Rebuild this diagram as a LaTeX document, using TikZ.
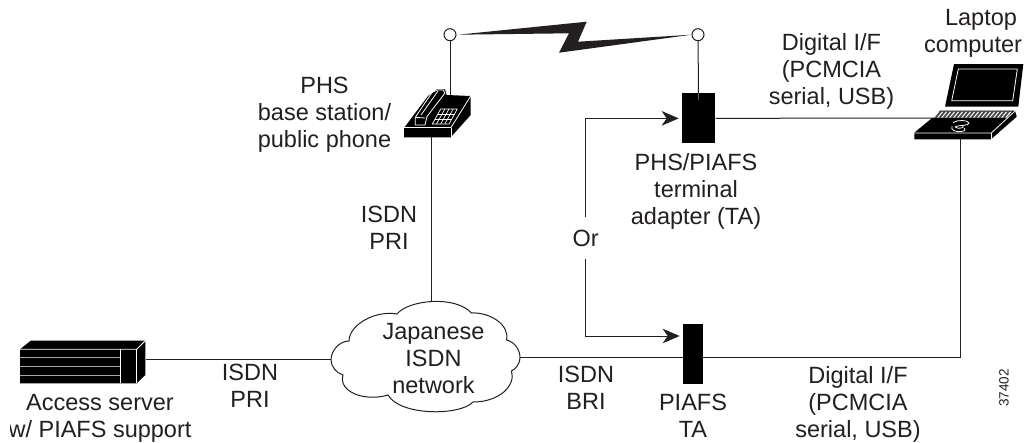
\documentclass[tikz,border=0pt]{standalone}
\usepackage{fontspec}
\setmainfont{Liberation Sans}
\usetikzlibrary{arrows.meta,calc}
\definecolor{ink}{HTML}{231F20}
\tikzset{
  x=1pt,y=-1pt,
  wire/.style={draw=ink,line width=1pt},
  arrowwire/.style={wire,-{Stealth[length=17pt,width=14.5pt,inset=5pt]},shorten >=3pt},
  label/.style={text=ink,align=center,anchor=base,inner sep=0pt,font=\fontsize{23.5}{26.7}\selectfont},
  tabox/.style={fill=black,draw=white,line width=0.7pt,inner sep=0pt,anchor=north west},
  antenna/.style={circle,draw=ink,fill=white,line width=1pt,minimum size=12pt,inner sep=0pt},
  iconline/.style={draw=white,line width=0.8pt,line join=round}
}
\begin{document}
\begin{tikzpicture}
\useasboundingbox (0,0) rectangle (1024,442);
\fill[white] (0,0) rectangle (1024,442);

% free points of the connectors
\coordinate (phoneTop) at (450,97);
\coordinate (phoneBottom) at (431.7,137);
\coordinate (laptopLeft) at (934,118);
\coordinate (laptopBottom) at (960,139);
\coordinate (serverRight) at (146,359.5);
\coordinate (cloudLeft) at (331,359.5);
\coordinate (cloudTop) at (431.7,302.3);
\coordinate (cloudRight) at (520,357.5);
\coordinate (piafsLineIn) at (683,357.5);
\coordinate (piafsLineOut) at (703,357.5);
\coordinate (piafsArrowIn) at (682.7,336);
\coordinate (laptopCorner) at (960,357.5);

% terminal adapters and antennas
\node[tabox,minimum width=33.3pt,minimum height=50.6pt] (ta) at (681.7,92.7) {};
\node[tabox,minimum width=20.6pt,minimum height=60.3pt] (piafs) at (682.7,324) {};
\node[antenna] (antL) at (450,34.7) {};
\node[antenna] (antR) at (698,34.7) {};

% lightning
\fill[ink] (458,34.7) -- (586.7,21.7) -- (578,41.7) -- (691.7,34.7) -- (559,52.7) -- (569,33.3) -- cycle;

% cloud
\draw[ink,line width=1pt,fill=white] (331,360)
  .. controls (331,350) and (340,341) .. (349,341)
  .. controls (349,325) and (375,310) .. (397,314)
  .. controls (408,300) and (455,295) .. (471.5,313)
  .. controls (490,312) and (510,325) .. (506.5,340)
  .. controls (515,342) and (520,350) .. (520,358)
  .. controls (520,363) and (516,369) .. (511.5,371)
  .. controls (516,385) and (500,402) .. (473,402)
  .. controls (460,416) and (400,416) .. (388,395)
  .. controls (365,402) and (338,392) .. (343,375)
  .. controls (336,373) and (331,366) .. (331,360) -- cycle;

% connectors
\draw[wire] (antL) -- (phoneTop);
\draw[wire] (antR) -- (ta.center);
\draw[wire] (phoneBottom) -- (cloudTop);
\draw[wire] (ta.east |- ta.center) -- (laptopLeft);
\draw[wire] (serverRight) -- (cloudLeft);
\draw[wire] (cloudRight) -- (piafsLineIn);
\draw[wire] (piafsLineOut) -- (laptopCorner) -- (laptopBottom);
\node[label,fill=white,inner sep=0pt,anchor=center,minimum height=42pt,minimum width=30pt] (orLabel) at (585.7,238) {Or};
\draw[arrowwire] (orLabel) |- (ta.west);
\draw[arrowwire] (orLabel) |- (piafsArrowIn);

% redraw adapters above their wires
\fill[black] (681.7,92.7) rectangle (715,143.3);
\draw[ink!70!white,line width=0.8pt] (698,93) -- (698,100);
\fill[black] (682.7,324) rectangle (703.3,384.3);

% phone
\fill[black] (404,128) -- (428,96) -- (436.7,89.3) -- (445,89.3) -- (446.7,95) -- (470.7,96)
  -- (470.7,115) -- (450.7,137.3) -- (404,137.3) -- cycle;
\draw[iconline] (404,127.5) -- (451,127.5) -- (470.7,96);
\draw[iconline] (451,127.5) -- (451,137.3);
\draw[iconline] (415.3,125) -- (415.3,117.3) -- (432,92.5) -- (437,90) -- (443,90) -- (445,93) -- (427,116.5) -- (425,125) -- cycle;
\draw[iconline] (415.3,117.3) -- (425,118) ;
\draw[iconline] (421,115) -- (438,91);
\draw[iconline,line width=0.7pt] (432.3,124) -- (440.7,109) -- (457.3,109) -- (449,124) -- cycle;
\foreach \t in {0.25,0.5,0.75} {
  \draw[iconline,line width=0.7pt] ($(432.3,124)!\t!(449,124)$) -- ($(440.7,109)!\t!(457.3,109)$);
}
\foreach \t in {0.33,0.67} {
  \draw[iconline,line width=0.7pt] ($(432.3,124)!\t!(440.7,109)$) -- ($(449,124)!\t!(457.3,109)$);
}

% laptop
\fill[black] (954,64) -- (1023.3,64) -- (1018.3,106.7) -- (945,106.7) -- cycle;
\draw[iconline] (958.3,69) -- (1017.3,69) -- (1012.7,100.7) -- (951.7,100.7) -- cycle;
\fill[black] (940,110.7) -- (1015,110.7) -- (1016.7,116.7) -- (991,139.3) -- (914.3,139.3) -- (914.3,132.7) -- (931.7,118.3) -- cycle;
\fill[white] (932,117.6) -- (938.5,111.5) -- (1012,111.5) -- (1006.5,117.6) -- cycle;
\foreach \k in {0,...,17} {
  \draw[black!75,line width=1.7pt] (941+\k*4,111.3) -- (935.5+\k*4,117.8);
}
\draw[iconline] (914.3,133) -- (991.3,133) -- (1015,111);
\draw[iconline] (991.3,133) -- (991.3,139.3);
\draw[iconline] (953,122.5) .. controls (958,119.5) and (968,120) .. (969,123) .. controls (969.5,126) and (957,125) .. (955,127)
  .. controls (959,130) and (965,127) .. (963,126);
\draw[iconline] (952,126) .. controls (950,130.5) and (956,132) .. (961,131.5) .. controls (966,131) and (966,129) .. (964,128);

% access server
\fill[black] (20,349.3) -- (30.7,340.7) -- (145.3,340.7) -- (145.3,375) -- (136.7,383.3) -- (20,383.3) -- cycle;
\draw[iconline] (20,349.3) -- (136.7,349.3) -- (145.3,340.7);
\draw[iconline] (136.7,349.3) -- (136.7,383.3);
\draw[iconline,draw=black!35] (20,357.7) -- (120.7,357.7);
\draw[iconline,draw=black!35] (20,366.7) -- (120.7,366.7);
\draw[iconline,draw=black!35] (20,375) -- (120.7,375);
\draw[iconline] (120.7,349.3) -- (120.7,383.3);

% labels
\node[label] (lblPhs) at (324.5,147) {PHS\\base station/\\public phone};
\node[label] (lblPriMid) at (389,249) {ISDN\\PRI};
\node[label] (lblPriLeft) at (250,407) {ISDN\\PRI};
\node[label] (lblServer) at (100,437.5) {Access server\\w/ PIAFS support};
\fill[white] (0,415) rectangle (10.3,442);
\node[label] (lblCloud) at (433.5,393) {Japanese\\ISDN\\network};
\node[label] (lblBri) at (586,409) {ISDN\\BRI};
\node[label] (lblPiafs) at (693,437.5) {PIAFS\\TA};
\node[label] (lblDigBottom) at (858,437) {Digital I/F\\(PCMCIA\\serial, USB)};
\node[label] (lblTa) at (696,224) {PHS/PIAFS\\terminal\\adapter (TA)};
\node[label] (lblDigTop) at (831.5,104) {Digital I/F\\(PCMCIA\\serial, USB)};
\node[label] (lblLaptop) at (973,52) {\hspace*{16pt}Laptop\\computer};
\node[text=ink,inner sep=0pt,rotate=90,font=\fontsize{13.5}{16}\selectfont] (lblId) at (1004,388) {37402};
\end{tikzpicture}
\end{document}
